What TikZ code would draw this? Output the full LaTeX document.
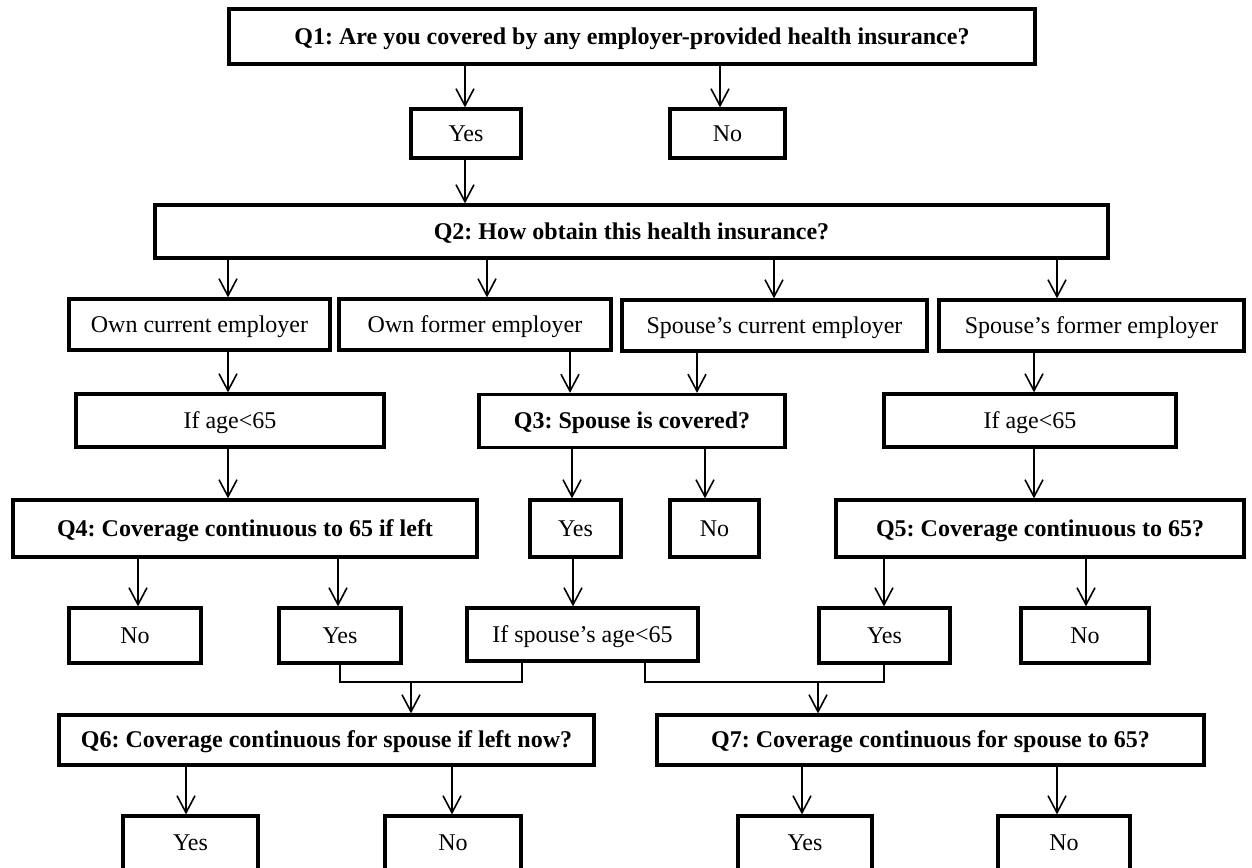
\documentclass[tikz,border=0pt]{standalone}
\usepackage{fontspec}
\setmainfont{Liberation Serif}
\usetikzlibrary{arrows.meta}
\frenchspacing

\begin{document}
\begin{tikzpicture}[x=0.5pt, y=-0.5pt, >={Straight Barb[length=8.5pt,width=9pt]},
  box/.style={draw, line width=1.6pt, inner sep=2pt, text height=9.5pt, text depth=2pt, font=\fontsize{12}{14}\selectfont},
  qbox/.style={box, font=\fontsize{12}{14}\selectfont\bfseries},
  link/.style={line width=0.8pt}]
\useasboundingbox (0,0) rectangle (1252,867);
% questions and answers
\node[qbox, minimum width=403pt, minimum height=27.5pt] (q1) at (632, 36.5) {Q1: Are you covered by any employer-provided health insurance?};
\node[box, minimum width=55pt, minimum height=24.5pt] (yes1) at (466, 133.5) {Yes};
\node[box, minimum width=57.5pt, minimum height=24.5pt] (no1) at (727.5, 133.5) {No};
\node[qbox, minimum width=476.5pt, minimum height=26.5pt] (q2) at (631.5, 231.5) {Q2: How obtain this health insurance?};
\node[box, minimum width=130.5pt, minimum height=25.5pt] (ocur) at (199.5, 324.5) {Own current employer};
\node[box, minimum width=136pt, minimum height=25.5pt] (ofor) at (475, 324.5) {Own former employer};
\node[box, minimum width=152.5pt, minimum height=25.5pt] (scur) at (774.5, 325.5) {Spouse’s current employer};
\node[box, minimum width=152.5pt, minimum height=25.5pt] (sfor) at (1091.5, 325.5) {Spouse’s former employer};
\node[box, minimum width=154pt, minimum height=26.5pt] (age1) at (230, 420.5) {If age<65};
\node[qbox, minimum width=153pt, minimum height=26.5pt] (q3) at (632, 421) {Q3: Spouse is covered?};
\node[box, minimum width=146pt, minimum height=26.5pt] (age2) at (1030, 420.5) {If age<65};
\node[qbox, minimum width=232pt, minimum height=28.5pt] (q4) at (245, 528.5) {Q4: Coverage continuous to 65 if left};
\node[box, minimum width=45.5pt, minimum height=28.5pt] (yes3) at (575.5, 528.5) {Yes};
\node[box, minimum width=44.5pt, minimum height=28.5pt] (no3) at (714.5, 528.5) {No};
\node[qbox, minimum width=204pt, minimum height=28.5pt] (q5) at (1040, 528.5) {Q5: Coverage continuous to 65?};
\node[box, minimum width=66pt, minimum height=27.5pt] (no4) at (135, 635.5) {No};
\node[box, minimum width=61pt, minimum height=27.5pt] (yes4) at (340, 635.5) {Yes};
\node[box, minimum width=115.5pt, minimum height=26.5pt] (sage) at (582.5, 634.5) {If spouse’s age<65};
\node[box, minimum width=65.5pt, minimum height=27.5pt] (yes5) at (884.5, 635.5) {Yes};
\node[box, minimum width=64pt, minimum height=27.5pt] (no5) at (1085, 635.5) {No};
\node[qbox, minimum width=267.5pt, minimum height=25pt] (q6) at (326.5, 740) {Q6: Coverage continuous for spouse if left now?};
\node[qbox, minimum width=273.5pt, minimum height=25pt] (q7) at (930.5, 740) {Q7: Coverage continuous for spouse to 65?};
\node[box, minimum width=67.5pt, minimum height=27pt] (yes6) at (190.5, 843) {Yes};
\node[box, minimum width=68pt, minimum height=27pt] (no6) at (453, 843) {No};
\node[box, minimum width=67pt, minimum height=27pt] (yes7) at (805, 843) {Yes};
\node[box, minimum width=66pt, minimum height=27pt] (no7) at (1064, 843) {No};
\coordinate (mid6) at (411, 682);
\coordinate (mid7) at (818, 682);
% arrows
\draw [link,->] (q1.south -| 465,0)--(yes1.north -| 465,0);
\draw [link,->] (q1.south -| 720,0)--(no1.north -| 720,0);
\draw [link,->] (yes1.south -| 465,0)--(q2.north -| 465,0);
\draw [link,->] (q2.south -| 228,0)--(ocur.north -| 228,0);
\draw [link,->] (q2.south -| 487,0)--(ofor.north -| 487,0);
\draw [link,->] (q2.south -| 774,0)--(scur.north -| 774,0);
\draw [link,->] (q2.south -| 1057,0)--(sfor.north -| 1057,0);
\draw [link,->] (ocur.south -| 228,0)--(age1.north -| 228,0);
\draw [link,->] (ofor.south -| 570,0)--(q3.north -| 570,0);
\draw [link,->] (scur.south -| 697,0)--(q3.north -| 697,0);
\draw [link,->] (sfor.south -| 1034,0)--(age2.north -| 1034,0);
\draw [link,->] (age1.south -| 228,0)--(q4.north -| 228,0);
\draw [link,->] (q3.south -| 572,0)--(yes3.north -| 572,0);
\draw [link,->] (q3.south -| 705,0)--(no3.north -| 705,0);
\draw [link,->] (age2.south -| 1034,0)--(q5.north -| 1034,0);
\draw [link,->] (q4.south -| 138,0)--(no4.north -| 138,0);
\draw [link,->] (q4.south -| 338,0)--(yes4.north -| 338,0);
\draw [link,->] (yes3.south -| 573,0)--(sage.north -| 573,0);
\draw [link,->] (q5.south -| 884,0)--(yes5.north -| 884,0);
\draw [link,->] (q5.south -| 1086,0)--(no5.north -| 1086,0);
% joins
\draw [link] (yes4.south -| 340,0) |- (mid6) -| (sage.south -| 522,0);
\draw [link,->] (mid6)--(q6.north -| mid6);
\draw [link] (sage.south -| 645,0) |- (mid7) -| (yes5.south -| 884,0);
\draw [link,->] (mid7)--(q7.north -| mid7);
\draw [link,->] (q6.south -| 186,0)--(yes6.north -| 186,0);
\draw [link,->] (q6.south -| 452,0)--(no6.north -| 452,0);
\draw [link,->] (q7.south -| 802,0)--(yes7.north -| 802,0);
\draw [link,->] (q7.south -| 1057,0)--(no7.north -| 1057,0);
\end{tikzpicture}
\end{document}
